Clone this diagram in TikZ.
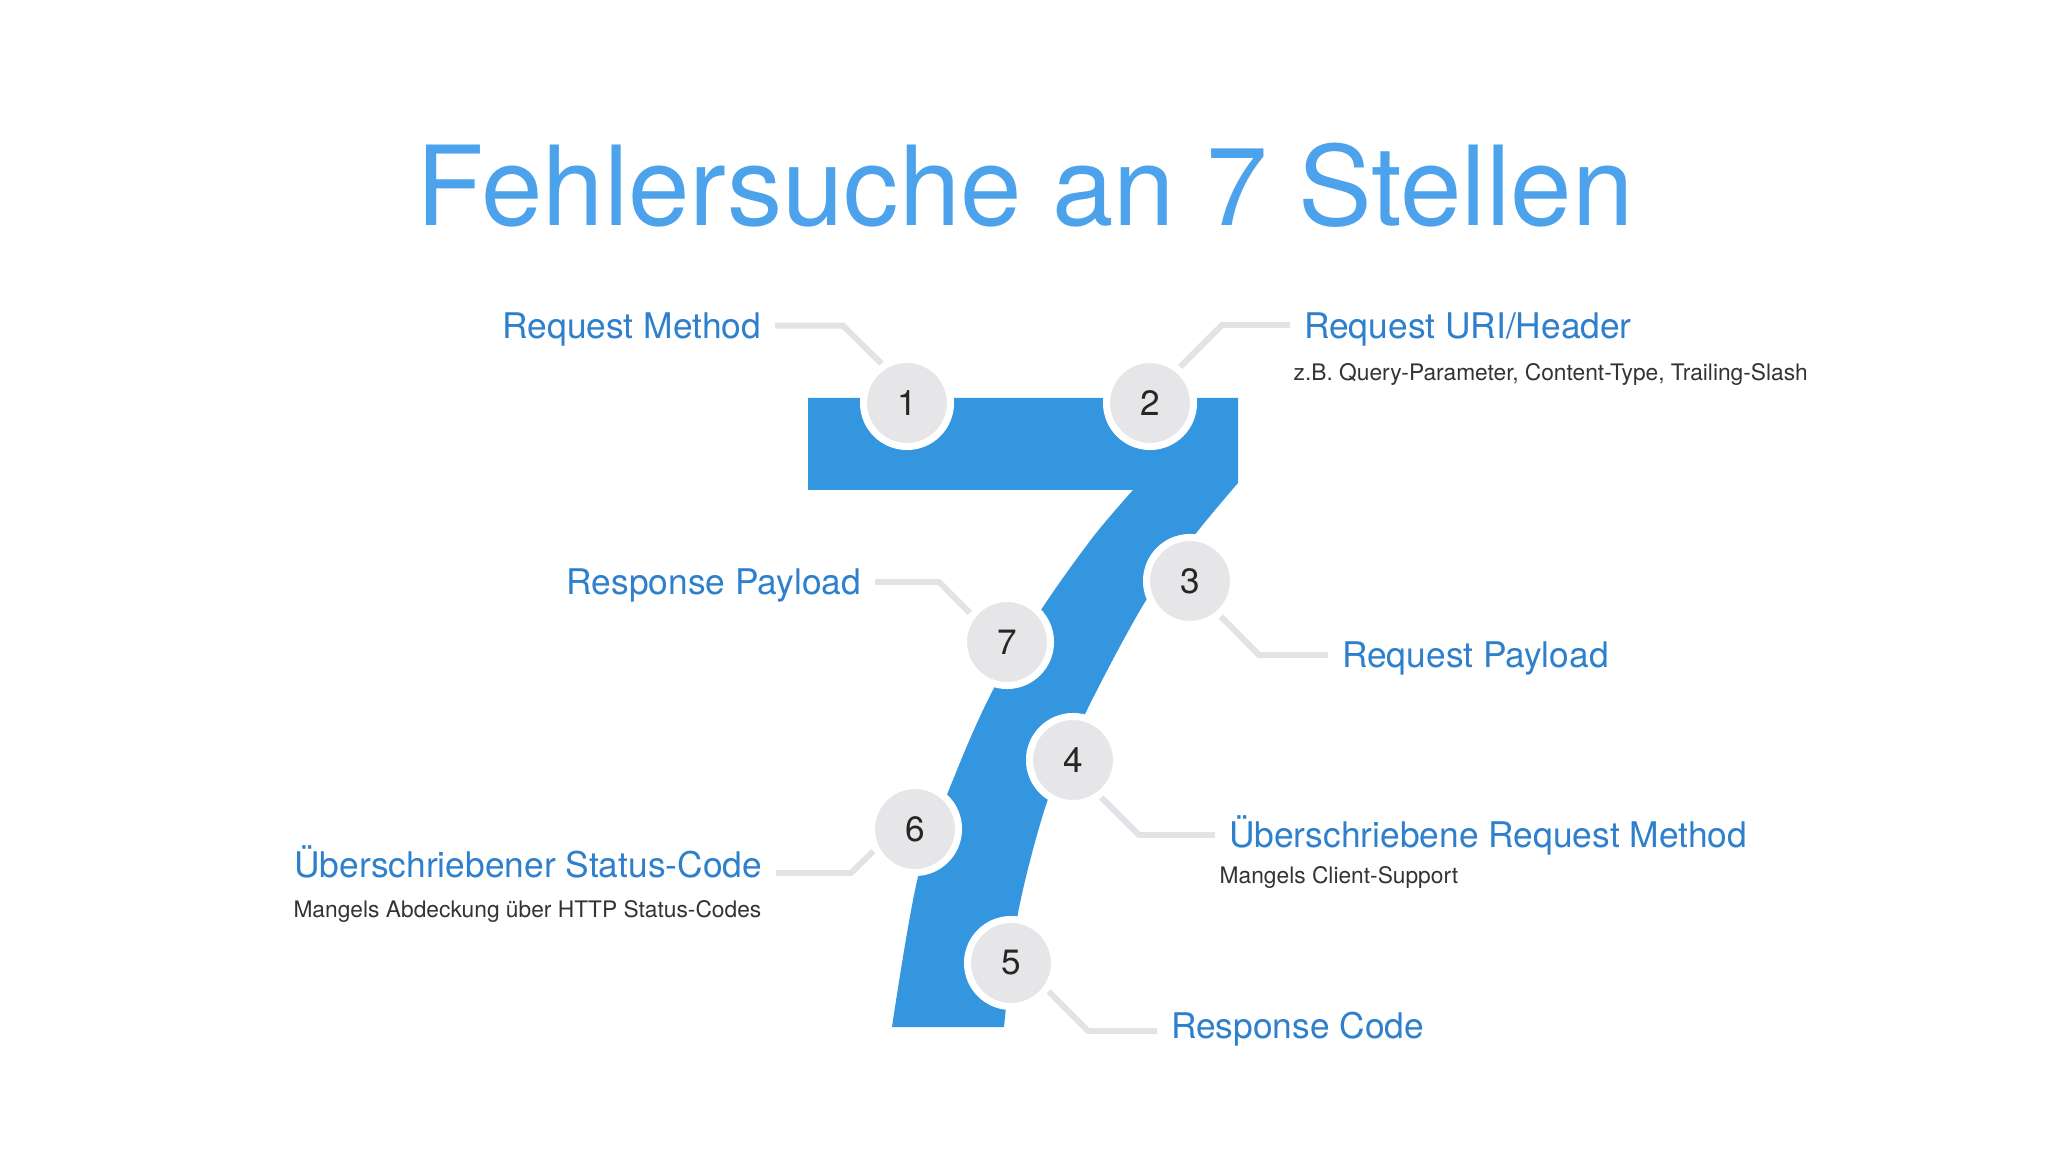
\documentclass[tikz,border=0pt]{standalone}
\usepackage{fontspec}
\setmainfont{TeX Gyre Heros}

\definecolor{sevenblue}{HTML}{3596E0}
\definecolor{titleblue}{HTML}{4DA2EC}
\definecolor{labelblue}{HTML}{2E80CC}
\definecolor{circlegray}{HTML}{E6E5E8}
\definecolor{linegray}{HTML}{E3E2E6}
\definecolor{subgray}{HTML}{333333}

\begin{document}
\begin{tikzpicture}[x=0.01cm,y=-0.01cm,
  num/.style={circle,fill=circlegray,draw=white,line width=2pt,minimum size=24.75pt,
    inner sep=0pt,text=black!85,font=\fontsize{10}{12}\selectfont},
  lbl/.style={inner sep=0pt,outer xsep=4pt,text=labelblue,font=\fontsize{10.05}{12}\selectfont},
  sublbl/.style={inner sep=0pt,text=subgray,font=\fontsize{6.47}{8}\selectfont},
  leader/.style={linegray,line width=1.7pt}]

% Canvas
\fill[white] (0,0) rectangle (2048,1152);
\useasboundingbox (0,0) rectangle (2048,1152);

% Title
\node[anchor=base,text=titleblue,font=\fontsize{31.4}{38}\selectfont] (title) at (1025,226) {Fehlersuche an 7 Stellen};

% The seven
\fill[sevenblue] (808,398) -- (1238,398) -- (1238,483)
  -- plot[smooth] coordinates {(1238,483) (1197,532) (1145,602) (1087,710) (1047,802) (1018,913) (1004,1027)}
  -- (892,1027)
  -- plot[smooth] coordinates {(892,1027) (918,877) (957,770) (993,690) (1043,607) (1093,537) (1133,490)}
  -- (808,490) -- cycle;

% Labels
\node[lbl,anchor=base east] (lab1) at (775,339) {Request Method};
\node[lbl,anchor=base west] (lab2) at (1290,339) {Request URI/Header};
\node[sublbl,anchor=base west] (sub2) at (1293,381) {z.B. Query-Parameter, Content-Type, Trailing-Slash};
\node[lbl,anchor=base west] (lab3) at (1328,667) {Request Payload};
\node[lbl,anchor=base west] (lab4) at (1215,847) {Überschriebene Request Method};
\node[sublbl,anchor=base west] (sub4) at (1219,883) {Mangels Client-Support};
\node[lbl,anchor=base west] (lab5) at (1157,1038) {Response Code};
\node[lbl,anchor=base east] (lab6) at (776,877) {Überschriebener Status-Code};
\node[sublbl,anchor=base east] (sub6) at (762,917) {Mangels Abdeckung über HTTP Status-Codes};
\node[lbl,anchor=base east] (lab7) at (875,594) {Response Payload};

% Bends of the leaders
\coordinate (b1) at (843,325.7);
\coordinate (b2) at (1222,325);
\coordinate (b3) at (1259,655);
\coordinate (b4) at (1139,835);
\coordinate (b5) at (1088,1031);
\coordinate (b6) at (851,873);
\coordinate (b7) at (939,582);

% Steps
\node[num] (c1) at (907,403) {1};
\node[num] (c2) at (1150,403) {2};
\node[num] (c3) at (1190,581) {3};
\node[num] (c4) at (1073,760) {4};
\node[num] (c5) at (1011,963) {5};
\node[num] (c6) at (915,829) {6};
\node[num] (c7) at (1007,642) {7};

% Leaders
\draw[leader] (lab1.east |- b1) -- (b1) -- (c1.123);
\draw[leader] (lab2.west |- b2) -- (b2) -- (c2.50);
\draw[leader] (c3.-49) -- (b3) -- (lab3.west |- b3);
\draw[leader] (c4.-53) -- (b4) -- (lab4.west |- b4);
\draw[leader] (c5.-37.6) -- (b5) -- (lab5.west |- b5);
\draw[leader] (lab6.east |- b6) -- (b6) -- (c6.208);
\draw[leader] (lab7.east |- b7) -- (b7) -- (c7.142);

\end{tikzpicture}
\end{document}
